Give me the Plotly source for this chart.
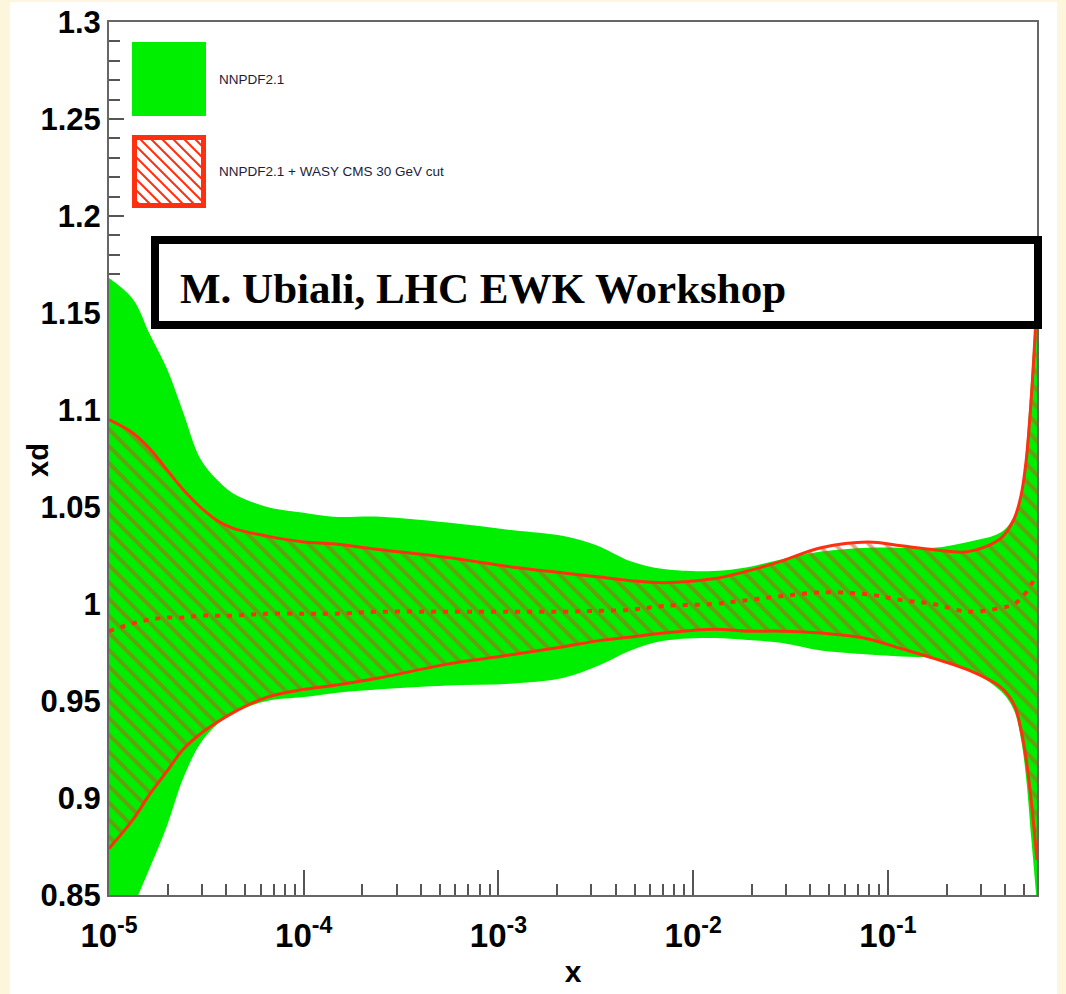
import math
import plotly.graph_objects as go

# ---------------- data ----------------
x_vals = [1.0e-5, 1.33e-5, 1.62e-5, 1.99e-5, 2.4e-5, 2.94e-5, 3.59e-5, 4.34e-5,
          6.49e-5, 1.0e-4, 1.42e-4, 2.47e-4, 5.47e-4, 1.19e-3, 2.16e-3, 3.23e-3,
          4.77e-3, 7.05e-3, 1.27e-2, 1.9e-2, 2.82e-2, 4.53e-2, 7.89e-2, 0.117,
          0.172, 0.258, 0.381, 0.445, 0.483, 0.513, 0.544, 0.583]

nnpdf_upper = [1.168, 1.157, 1.139, 1.121, 1.099, 1.075, 1.064, 1.057,
               1.050, 1.047, 1.045, 1.045, 1.042, 1.038, 1.035, 1.030,
               1.022, 1.018, 1.017, 1.019, 1.023, 1.027, 1.029, 1.029,
               1.029, 1.032, 1.037, 1.045, 1.055, 1.080, 1.116, 1.162]
nnpdf_lower = [0.817, 0.844, 0.864, 0.886, 0.910, 0.928, 0.938, 0.944,
               0.950, 0.952, 0.954, 0.956, 0.958, 0.959, 0.962, 0.968,
               0.976, 0.981, 0.9825, 0.9815, 0.980, 0.976, 0.974, 0.973,
               0.972, 0.966, 0.955, 0.945, 0.930, 0.910, 0.880, 0.845]

wasy_upper = [1.095, 1.088, 1.080, 1.069, 1.059, 1.050, 1.043, 1.039,
              1.035, 1.032, 1.031, 1.028, 1.024, 1.019, 1.016, 1.014,
              1.012, 1.011, 1.013, 1.017, 1.022, 1.029, 1.032, 1.030,
              1.028, 1.027, 1.034, 1.044, 1.056, 1.074, 1.105, 1.157]
wasy_central = [0.986, 0.990, 0.992, 0.993, 0.993, 0.994, 0.994, 0.994,
                0.995, 0.995, 0.995, 0.996, 0.996, 0.996, 0.996, 0.9965,
                0.997, 0.999, 1.000, 1.002, 1.004, 1.006, 1.005, 1.002,
                1.000, 0.996, 0.998, 1.000, 1.003, 1.006, 1.010, 1.015]
wasy_lower = [0.874, 0.889, 0.902, 0.914, 0.925, 0.933, 0.939, 0.944,
              0.952, 0.956, 0.958, 0.962, 0.969, 0.974, 0.978, 0.981,
              0.983, 0.985, 0.987, 0.986, 0.986, 0.985, 0.982, 0.977,
              0.972, 0.966, 0.957, 0.948, 0.935, 0.920, 0.899, 0.868]

x_tickvals = [1e-5, 1e-4, 1e-3, 1e-2, 1e-1]
x_ticktext = ["10<sup>-5</sup>", "10<sup>-4</sup>", "10<sup>-3</sup>",
              "10<sup>-2</sup>", "10<sup>-1</sup>"]
y_tickvals = [0.85, 0.9, 0.95, 1.0, 1.05, 1.1, 1.15, 1.2, 1.25, 1.3]
y_ticktext = ["0.85", "0.9", "0.95", "1", "1.05", "1.1", "1.15", "1.2", "1.25", "1.3"]

legend_labels = ["NNPDF2.1", "NNPDF2.1 + WASY CMS 30 GeV cut"]
y_title = "xd"
x_title = "x"
note_text = "M. Ubiali, LHC EWK Workshop"

# ---------------- styling ----------------
W, H = 1066, 994
ML, MR, MT, MB = 109, 29, 22, 99
PW, PH = W - ML - MR, H - MT - MB
GREEN = "#00ee00"
RED = "#ff3010"
HATCH = "#c85020"
CREAM = "#fdf5dc"
SANS = "Liberation Sans, Arial, Helvetica, sans-serif"


def pxx(xp):
    return (xp - ML) / PW


def pxy(yp):
    return (MT + PH - yp) / PH


minor_x = []
for e in range(-5, 0):
    for m in range(2, 10):
        v = m * 10 ** e
        if v < 0.583:
            minor_x.append(v)

fig = go.Figure()

# NNPDF2.1 band (solid green)
fig.add_trace(go.Scatter(x=x_vals, y=nnpdf_lower, mode="lines",
                         line=dict(width=0, color=GREEN, shape="spline", smoothing=1),
                         showlegend=False, hoverinfo="skip"))
fig.add_trace(go.Scatter(x=x_vals, y=nnpdf_upper, mode="lines", fill="tonexty",
                         fillcolor=GREEN,
                         line=dict(width=0, color=GREEN, shape="spline", smoothing=1),
                         name=legend_labels[0], showlegend=False))

# WASY band (red hatched)
fig.add_trace(go.Scatter(x=x_vals, y=wasy_lower, mode="lines",
                         line=dict(width=3, color=RED, shape="spline", smoothing=1),
                         showlegend=False, hoverinfo="skip"))
fig.add_trace(go.Scatter(x=x_vals, y=wasy_upper, mode="lines", fill="tonexty",
                         fillcolor="rgba(0,0,0,0)",
                         fillpattern=dict(shape="\\", fgcolor=HATCH,
                                          bgcolor="rgba(0,0,0,0)", size=12,
                                          solidity=0.32),
                         line=dict(width=3, color=RED, shape="spline", smoothing=1),
                         name=legend_labels[1], showlegend=False))
fig.add_trace(go.Scatter(x=x_vals, y=wasy_central, mode="lines",
                         line=dict(width=4, color=RED, dash="5px,7px",
                                   shape="spline", smoothing=1),
                         showlegend=False, hoverinfo="skip"))

shapes = []
# white panel on cream page
shapes.append(dict(type="rect", xref="paper", yref="paper",
                   x0=pxx(10), x1=pxx(1057), y0=pxy(994), y1=pxy(2),
                   fillcolor="white", line=dict(width=0), layer="below"))
# legend swatches
shapes.append(dict(type="rect", xref="paper", yref="paper",
                   x0=pxx(132), x1=pxx(206), y0=pxy(116), y1=pxy(42),
                   fillcolor=GREEN, line=dict(width=0), layer="above"))
bx0, bx1, by0, by1 = 134.5, 203.5, 137.5, 205.5
shapes.append(dict(type="rect", xref="paper", yref="paper",
                   x0=pxx(bx0), x1=pxx(bx1), y0=pxy(by1), y1=pxy(by0),
                   fillcolor="white", line=dict(width=5, color=RED), layer="above"))
segs = []
c = bx0 - by1 + 6
while c < bx1 - by0:
    ya = max(by0, bx0 - c)
    yb = min(by1, bx1 - c)
    if yb - ya > 2:
        segs.append("M %.5f %.5f L %.5f %.5f" % (pxx(ya + c), pxy(ya), pxx(yb + c), pxy(yb)))
    c += 11
shapes.append(dict(type="path", xref="paper", yref="paper", path=" ".join(segs),
                   line=dict(width=2, color=RED), layer="above"))
# annotation box
shapes.append(dict(type="rect", xref="paper", yref="paper",
                   x0=pxx(155), x1=pxx(1038), y0=pxy(325), y1=pxy(240),
                   fillcolor="white", line=dict(width=8, color="black"), layer="above"))

annotations = [
    dict(xref="paper", yref="paper", x=pxx(217), y=pxy(80), xanchor="left",
         yanchor="middle", text=legend_labels[0], showarrow=False,
         font=dict(family=SANS, size=13.5, color="#1c1c3c")),
    dict(xref="paper", yref="paper", x=pxx(217), y=pxy(172), xanchor="left",
         yanchor="middle", text=legend_labels[1], showarrow=False,
         font=dict(family=SANS, size=13.5, color="#1c1c3c")),
    dict(xref="paper", yref="paper", x=pxx(178), y=pxy(288), xanchor="left",
         yanchor="middle", text="<b>" + note_text + "</b>", showarrow=False,
         font=dict(family="Liberation Serif, Times New Roman, serif", size=43,
                   color="black")),
    # y-axis title, placed as in the reference
    dict(xref="paper", yref="paper", x=pxx(38), y=pxy(460), xanchor="center",
         yanchor="middle", textangle=-90, text="<b>" + y_title + "</b>",
         showarrow=False, font=dict(family=SANS, size=29, color="black")),
]

fig.update_layout(
    width=W, height=H,
    margin=dict(l=ML, r=MR, t=MT, b=MB, pad=0, autoexpand=False),
    paper_bgcolor=CREAM, plot_bgcolor="white",
    shapes=shapes, annotations=annotations,
    showlegend=False,
)

fig.update_xaxes(
    type="log", range=[-5, math.log10(0.583)], automargin=False,
    tickvals=x_tickvals, ticktext=x_ticktext,
    ticks="inside", ticklen=25, tickwidth=2, tickcolor="#555",
    ticklabelstandoff=10,
    minor=dict(tickvals=minor_x, ticks="inside", ticklen=11, tickwidth=2,
               tickcolor="#555", showgrid=False),
    showgrid=False, zeroline=False,
    showline=True, mirror=True, linecolor="#666", linewidth=2,
    layer="below traces",
    tickfont=dict(family=SANS, size=33, color="black", weight="bold"),
    title=dict(text="<b>" + x_title + "</b>", standoff=8,
               font=dict(family=SANS, size=30, color="black")),
)
fig.update_yaxes(
    range=[0.85, 1.3], tickvals=y_tickvals, ticktext=y_ticktext, automargin=False,
    ticks="inside", ticklen=15, tickwidth=2, tickcolor="#555",
    minor=dict(dtick=0.01, tick0=0.85, ticks="inside", ticklen=11, tickwidth=2,
               tickcolor="#555", showgrid=False),
    showgrid=False, zeroline=False,
    showline=True, mirror=True, linecolor="#666", linewidth=2,
    layer="below traces",
    tickfont=dict(family=SANS, size=31, color="black", weight="bold"),
)

fig.write_html("out.html")
